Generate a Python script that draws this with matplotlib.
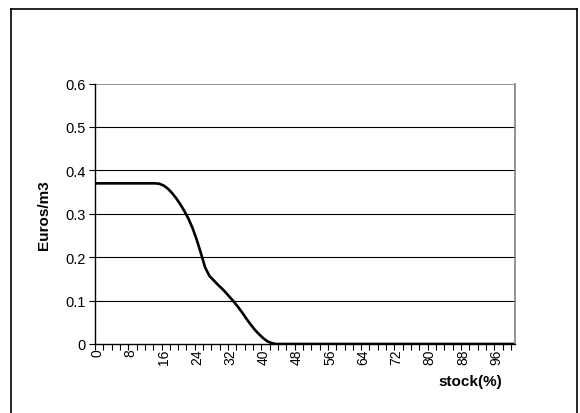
import numpy as np
import matplotlib
matplotlib.use('Agg')
import matplotlib.pyplot as plt
from matplotlib.lines import Line2D

plt.rcParams['font.family'] = ['Liberation Sans', 'DejaVu Sans']

# stock (%) categories 0..100 and price values
stock = list(range(0, 101))
euros = ([0.37] * 15 +
         [0.369, 0.365, 0.358, 0.348, 0.336, 0.322, 0.306, 0.288, 0.266,
          0.239, 0.208, 0.176, 0.157, 0.147, 0.137, 0.128, 0.118, 0.107,
          0.096, 0.084, 0.071, 0.057, 0.044, 0.032, 0.022, 0.013, 0.006,
          0.002] +
         [0.0] * 58)
y_ticks = [0, 0.1, 0.2, 0.3, 0.4, 0.5, 0.6]
x_labels = list(range(0, 97, 8))

W, H = 580, 414
fig = plt.figure(figsize=(W / 100, H / 100), dpi=100)
ax = fig.add_axes([95 / W, (H - 345) / H, 420 / W, 260.5 / H])

x = np.arange(len(stock))
ax.plot(x, euros, color='black', lw=1.9, solid_joinstyle='round')

ax.set_xlim(-0.5, len(stock) - 0.5)
ax.set_ylim(0, 0.6)
ax.set_yticks(y_ticks)
ax.set_yticklabels(['0' if v == 0 else '%.1f' % v for v in y_ticks], fontsize=10.5)
for v in y_ticks[1:-1]:
    ax.axhline(v, color='black', lw=0.8, zorder=0)
ax.axhline(0.6, color='#808080', lw=1.2, zorder=0)

# category axis: tick marks between categories every 2, labels every 8
ax.set_xticks(np.arange(-0.5, len(stock), 2))
ax.set_xticklabels([])
ax.set_xticks([stock.index(v) for v in x_labels], minor=True)
ax.set_xticklabels([str(v) for v in x_labels], minor=True, rotation=90, fontsize=10)
ax.tick_params(axis='x', which='major', direction='out', length=4, width=0.8)
ax.tick_params(axis='x', which='minor', length=0, pad=3)
ax.tick_params(axis='y', direction='out', length=4, width=0.8, pad=3)

for s in ['left', 'bottom']:
    ax.spines[s].set_linewidth(1.0)
ax.spines['top'].set_visible(False)
ax.spines['right'].set_color('#808080')
ax.spines['right'].set_linewidth(1.2)

ax.set_ylabel('Euros/m3', fontsize=11, fontweight='bold', labelpad=10)
fig.text(502 / W, 1 - 382 / H, 'stock(%)', fontsize=11, fontweight='bold',
         ha='right', va='center')

# outer chart border
bx0, by0, bx1 = 10.5 / W, 1 - 9.5 / H, 576.5 / W
for xs, ys in [([bx0, bx1], [by0, by0]), ([bx0, bx0], [by0, -0.1]), ([bx1, bx1], [by0, -0.1])]:
    fig.add_artist(Line2D(xs, ys, color='black', lw=1.2, transform=fig.transFigure))

fig.savefig('out.png', dpi=100)
